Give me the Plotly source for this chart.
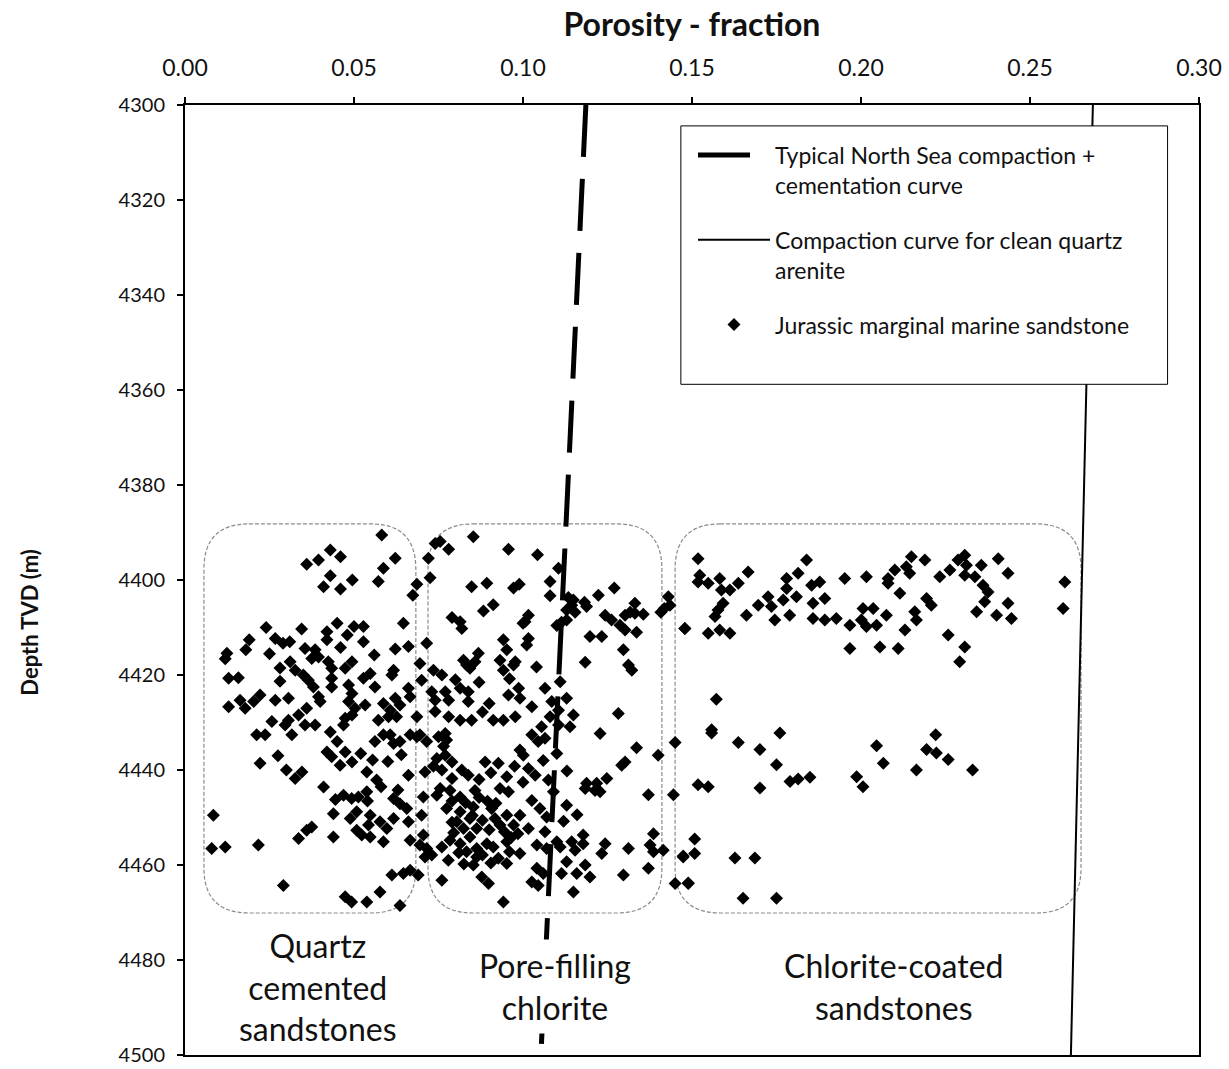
import plotly.graph_objects as go

# ---- porosity (fraction) / depth (m TVD) samples, grouped by facies ----
quartz_por = [
    0.036, 0.0395, 0.043, 0.046, 0.043, 0.0495, 0.041, 0.046, 0.0345, 0.045, 0.024, 0.019,
    0.042, 0.042, 0.048, 0.050, 0.0267, 0.029, 0.018, 0.0124, 0.0355, 0.0385,
    0.0582, 0.0622, 0.0587, 0.0572, 0.0686, 0.0674, 0.0646, 0.0528, 0.0528, 0.0622, 0.0661,
    0.0119, 0.0129, 0.0158, 0.0281, 0.0281, 0.0311, 0.0326, 0.035, 0.0365, 0.038, 0.0395,
    0.040, 0.0129, 0.0163, 0.0178, 0.0203, 0.0222, 0.0267, 0.0306, 0.0360, 0.0336, 0.0306,
    0.0296, 0.0316, 0.0257, 0.0237, 0.0212, 0.0355, 0.0385, 0.043, 0.0424, 0.0434, 0.0434,
    0.0434, 0.0474, 0.0494, 0.0484, 0.0494, 0.0484, 0.0474, 0.0469, 0.0494, 0.0503, 0.0420,
    0.0434, 0.0474, 0.0494, 0.0459, 0.0222, 0.0326, 0.0346, 0.0375, 0.0395,
    0.0548, 0.0528, 0.0562, 0.0617, 0.0612, 0.0695, 0.0533, 0.0587, 0.0607, 0.0626, 0.0636,
    0.0661, 0.0666, 0.0622, 0.0572, 0.0602, 0.0686, 0.0562, 0.0587, 0.0607, 0.0617, 0.0636,
    0.0666, 0.0686, 0.0695, 0.0661, 0.0538, 0.0567,
    0.0084, 0.0079, 0.0119, 0.0217, 0.0291, 0.0336, 0.0360, 0.0375, 0.0439, 0.0439, 0.0469,
    0.0493, 0.0513, 0.0489, 0.0508, 0.0508, 0.0474, 0.0493,
    0.0538, 0.0548, 0.0543, 0.0577, 0.0597, 0.0617, 0.0636, 0.0656, 0.0661, 0.0617, 0.0523,
    0.0548, 0.0587, 0.0666, 0.0695, 0.0612, 0.0646, 0.0666, 0.0690, 0.0577, 0.0538, 0.0636,
    0.0450, 0.0520, 0.0555, 0.0600, 0.0640, 0.0540, 0.0580, 0.0410, 0.0445, 0.0630, 0.0275,
    0.0300, 0.0310, 0.0250, 0.0460, 0.0560,
]
quartz_depth = [
    4396.7, 4395.8, 4393.7, 4395.1, 4399.1, 4400.0, 4401.4, 4401.9, 4410.3, 4409.1, 4410.0, 4412.6,
    4410.9, 4412.6, 4411.6, 4409.8, 4412.3, 4413.3, 4414.7, 4415.4, 4414.4, 4414.7,
    4390.5, 4395.4, 4397.5, 4400.3, 4400.9, 4403.2, 4409.1, 4409.8, 4413.0, 4414.5, 4414.0,
    4416.6, 4420.7, 4420.6, 4418.5, 4421.3, 4417.2, 4419.0, 4420.0, 4421.1, 4422.5, 4424.6,
    4425.6, 4426.7, 4425.3, 4427.0, 4425.6, 4424.2, 4425.3, 4424.9, 4427.0, 4428.4, 4429.5,
    4430.5, 4432.6, 4429.8, 4432.6, 4432.6, 4430.5, 4430.5, 4432.0, 4417.2, 4418.6, 4420.7,
    4422.5, 4418.6, 4417.2, 4422.1, 4423.9, 4425.6, 4429.1, 4430.5, 4428.4, 4427.0, 4436.2,
    4437.2, 4436.2, 4438.3, 4439.0, 4438.6, 4441.8, 4440.4, 4416.5, 4416.2,
    4419.7, 4420.7, 4422.5, 4419.0, 4420.0, 4417.6, 4426.3, 4426.0, 4427.4, 4428.8, 4426.3,
    4422.8, 4424.6, 4424.9, 4429.5, 4428.8, 4428.8, 4434.0, 4432.6, 4432.6, 4434.4, 4434.0,
    4432.6, 4433.0, 4432.6, 4441.1, 4440.4, 4442.1,
    4449.5, 4456.5, 4456.2, 4455.8, 4464.3, 4454.4, 4452.7, 4452.0, 4449.2, 4454.1, 4445.3,
    4446.0, 4445.7, 4450.2, 4448.8, 4452.7, 4466.7, 4467.8,
    4444.6, 4449.5, 4451.6, 4450.9, 4452.3, 4450.2, 4447.1, 4448.1, 4450.9, 4446.0, 4453.7,
    4454.1, 4455.1, 4454.8, 4455.8, 4462.1, 4461.8, 4461.1, 4462.1, 4465.7, 4467.8, 4468.5,
    4434.0, 4436.5, 4437.9, 4438.2, 4436.8, 4446.5, 4443.5, 4443.6, 4446.2, 4444.2, 4437.0,
    4440.0, 4413.0, 4415.5, 4414.2, 4415.8,
]

pore_por = [
    0.0715, 0.0725, 0.072, 0.074, 0.0755, 0.078, 0.0853, 0.0957, 0.0848, 0.0893, 0.0972,
    0.0989, 0.0883, 0.0912, 0.079, 0.0814, 0.0819, 0.0942, 0.0952, 0.100, 0.0868,
    0.1043, 0.1105, 0.1080, 0.1080, 0.1134, 0.1149, 0.1129, 0.1154, 0.1144, 0.1182, 0.1188,
    0.1223, 0.1270, 0.1243, 0.1262, 0.1287, 0.1302, 0.1336, 0.1302, 0.1331, 0.1331, 0.1356,
    0.1317, 0.1198, 0.1233, 0.1114, 0.1100, 0.1129, 0.1016, 0.1006, 0.1016, 0.1011, 0.1408,
    0.1430, 0.1435, 0.1418, 0.1297,
    0.0735, 0.070, 0.073, 0.074, 0.074, 0.077, 0.078, 0.0814, 0.0838, 0.0838, 0.078, 0.0814,
    0.0848, 0.0824, 0.0843, 0.0858, 0.0833, 0.0932, 0.0942, 0.0972, 0.0977, 0.0957, 0.0987,
    0.0991, 0.0912, 0.0942, 0.0977, 0.0715, 0.075, 0.077, 0.0774, 0.0745, 0.077, 0.079,
    0.0888, 0.0927, 0.0991, 0.1001, 0.071, 0.0760, 0.0819, 0.0838, 0.0952,
    0.1040, 0.1184, 0.1312, 0.1322, 0.1065, 0.1110, 0.1129, 0.1085, 0.1026, 0.1080, 0.1105,
    0.1149, 0.1139, 0.1105, 0.1055, 0.1026, 0.1045, 0.1065, 0.1100, 0.1282, 0.1228, 0.1336,
    0.1302, 0.1292, 0.1400, 0.1016, 0.1036, 0.1075, 0.1188, 0.1218, 0.1248,
    0.0700, 0.0705, 0.0705, 0.0715, 0.0730, 0.0710, 0.0760, 0.0755, 0.0784, 0.0858, 0.0932,
    0.0957, 0.0814, 0.0745, 0.0774, 0.0814, 0.0853, 0.0843, 0.0804, 0.0824, 0.0863, 0.0907,
    0.0917, 0.0932, 0.0952, 0.0972, 0.0991, 0.0760, 0.0784, 0.0814, 0.0843, 0.0863, 0.0893,
    0.0912, 0.0833, 0.0863, 0.0952, 0.0991, 0.0779, 0.0853, 0.0878, 0.0898, 0.0927, 0.0952,
    0.0942,
    0.1026, 0.1050, 0.1070, 0.1016, 0.1065, 0.1041, 0.1070, 0.1100, 0.1110, 0.1129, 0.1144,
    0.1154, 0.1178, 0.1178, 0.1041, 0.1060, 0.1026, 0.1045, 0.1114, 0.1129, 0.1159, 0.1184,
    0.1198, 0.1149, 0.1184, 0.1213, 0.1228, 0.1243, 0.1233, 0.1312, 0.1297, 0.1371, 0.1371,
    0.1386, 0.1376, 0.1386, 0.1415,
    0.0790, 0.0830, 0.0870, 0.0895, 0.0920, 0.0790, 0.0850, 0.0880, 0.0900, 0.0945, 0.0965,
    0.0985, 0.0795, 0.0810, 0.0880, 0.0905, 0.0960, 0.0825,
    0.0735, 0.0790, 0.0870, 0.0905, 0.0975, 0.1000, 0.0765,
    0.1090, 0.1120, 0.1160, 0.1060, 0.1130,
    0.0760, 0.0800, 0.0870, 0.0900, 0.0880, 0.0960,
]
pore_depth = [
    4413.3, 4399.5, 4395.4, 4392.3, 4391.9, 4393.5, 4390.9, 4393.5, 4401.4, 4400.7, 4401.7,
    4400.9, 4406.5, 4405.2, 4407.9, 4408.8, 4410.2, 4412.6, 4414.7, 4409.1, 4415.4,
    4394.7, 4397.5, 4400.3, 4403.3, 4403.7, 4404.2, 4406.3, 4406.8, 4405.3, 4404.7, 4405.6,
    4403.2, 4401.7, 4407.4, 4408.4, 4409.5, 4410.5, 4411.0, 4407.4, 4404.9, 4407.0, 4407.2,
    4406.8, 4411.9, 4411.9, 4408.9, 4409.6, 4408.4, 4407.4, 4408.8, 4412.3, 4413.7, 4406.8,
    4403.5, 4405.3, 4406.0, 4414.7,
    4419.0, 4421.1, 4423.5, 4425.3, 4427.7, 4423.5, 4425.3, 4422.8, 4423.5, 4425.6, 4428.8, 4429.5,
    4429.5, 4416.9, 4418.6, 4417.2, 4417.9, 4416.9, 4419.0, 4417.9, 4417.2, 4424.2, 4422.8,
    4424.9, 4429.5, 4429.5, 4428.8, 4434.0, 4433.0, 4432.3, 4433.7, 4437.6, 4436.9, 4438.3,
    4438.3, 4438.6, 4435.8, 4436.9, 4440.4, 4440.0, 4440.0, 4441.1, 4441.4,
    4418.3, 4417.3, 4417.9, 4419.0, 4422.8, 4421.4, 4424.9, 4425.6, 4426.7, 4428.8, 4427.4,
    4428.4, 4430.9, 4430.5, 4430.9, 4432.6, 4434.0, 4433.3, 4436.5, 4428.1, 4432.3, 4435.3,
    4438.3, 4439.0, 4436.9, 4439.7, 4441.1, 4442.1, 4442.8, 4442.8, 4441.8,
    4449.5, 4445.7, 4453.7, 4456.5, 4457.9, 4458.3, 4463.2, 4443.9, 4444.3, 4444.3, 4443.9,
    4444.6, 4445.7, 4445.3, 4448.1, 4448.8, 4447.8, 4450.2, 4450.9, 4452.3, 4452.3, 4448.1,
    4450.2, 4451.6, 4449.5, 4451.6, 4449.5, 4456.2, 4454.8, 4455.5, 4454.1, 4456.5, 4455.5,
    4456.2, 4457.2, 4458.3, 4455.1, 4457.6, 4459.0, 4460.0, 4462.5, 4463.9, 4458.6, 4459.7,
    4467.8,
    4446.4, 4448.1, 4449.9, 4452.3, 4453.0, 4455.8, 4456.5, 4455.1, 4456.2, 4447.4, 4455.1,
    4456.9, 4453.7, 4455.5, 4460.7, 4461.8, 4463.6, 4464.3, 4461.8, 4459.3, 4461.8, 4460.0,
    4462.5, 4465.7, 4443.9, 4444.3, 4444.6, 4455.5, 4457.6, 4456.5, 4462.1, 4460.7, 4445.2,
    4453.4, 4455.8, 4457.2, 4456.9,
    4446.5, 4446.9, 4445.8, 4446.6, 4447.0, 4451.0, 4449.6, 4450.6, 4452.6, 4453.0, 4454.2,
    4453.4, 4453.2, 4457.4, 4457.9, 4459.6, 4457.2, 4459.8,
    4439.2, 4441.8, 4442.0, 4440.6, 4439.2, 4442.6, 4435.0,
    4444.6, 4450.8, 4449.4, 4438.0, 4440.2,
    4420.0, 4421.0, 4421.5, 4426.0, 4427.8, 4420.8,
]

coated_por = [
    0.1479, 0.1450, 0.1445, 0.1474, 0.1450, 0.1489,
    0.1518, 0.1523, 0.1518, 0.1548, 0.1582, 0.1587, 0.1612, 0.1637, 0.1666, 0.1592, 0.1577,
    0.1568, 0.1479, 0.1548, 0.1582, 0.1612, 0.1661, 0.1696, 0.1725, 0.1735, 0.1745, 0.1770,
    0.1780, 0.1780, 0.1814, 0.1789, 0.1809, 0.1839, 0.1854, 0.1878, 0.1858, 0.1893, 0.1858,
    0.1893, 0.1927, 0.1952, 0.2016, 0.1967, 0.2006, 0.2001, 0.2036, 0.2016, 0.2046, 0.2075,
    0.1967, 0.2056, 0.2110, 0.2080, 0.2080, 0.2100, 0.2134, 0.2149, 0.2144, 0.2189, 0.2115,
    0.2159, 0.2164, 0.2130, 0.2194, 0.2208, 0.2233, 0.2263, 0.2287, 0.2307, 0.2312, 0.2307,
    0.2337, 0.2356, 0.2361, 0.2376, 0.2366, 0.2406, 0.2435, 0.2342, 0.2401, 0.2435, 0.2445,
    0.2258, 0.2307, 0.2292, 0.2603, 0.2598,
    0.1572, 0.1558, 0.1558, 0.1637, 0.1701, 0.1760, 0.1750, 0.1790, 0.1814, 0.1849, 0.1701,
    0.1518, 0.1548, 0.1987, 0.2006, 0.2046, 0.2066, 0.2164, 0.2194, 0.2223, 0.2221, 0.2258,
    0.2330, 0.1508, 0.1474, 0.1508, 0.1627, 0.1686, 0.1489, 0.1651, 0.1750,
]
coated_depth = [
    4410.2, 4434.2, 4445.2, 4458.3, 4463.9, 4463.9,
    4395.5, 4399.0, 4400.4, 4400.7, 4399.7, 4402.1, 4402.1, 4400.7, 4398.3, 4404.9, 4406.3,
    4407.7, 4410.2, 4411.2, 4410.5, 4411.2, 4407.4, 4405.3, 4403.5, 4405.6, 4408.4, 4404.2,
    4399.7, 4401.8, 4398.6, 4407.4, 4403.5, 4395.8, 4401.1, 4400.4, 4404.9, 4403.9, 4408.1,
    4408.4, 4408.1, 4399.7, 4399.3, 4409.5, 4406.0, 4408.4, 4406.0, 4409.8, 4409.5, 4407.4,
    4414.4, 4414.1, 4414.4, 4399.7, 4400.7, 4397.9, 4397.2, 4395.1, 4398.6, 4395.8, 4402.8,
    4406.7, 4408.4, 4410.5, 4403.9, 4405.3, 4399.3, 4397.9, 4395.8, 4394.8, 4396.9, 4399.0,
    4399.3, 4396.9, 4401.1, 4402.5, 4404.6, 4395.5, 4398.6, 4406.7, 4407.4, 4404.9, 4408.1,
    4411.6, 4414.1, 4417.2, 4400.4, 4406.0,
    4425.1, 4431.5, 4432.2, 4434.2, 4435.7, 4432.2, 4438.9, 4442.4, 4441.9, 4441.5, 4443.8,
    4443.1, 4443.5, 4441.4, 4443.5, 4434.9, 4438.6, 4440.0, 4435.7, 4436.4, 4432.6, 4437.8,
    4440.0, 4454.5, 4458.1, 4457.6, 4458.5, 4458.5, 4463.8, 4467.0, 4467.0,
]

# ---- reference trend curves (porosity at top and bottom of the depth window) ----
curve_depth = [4300, 4500]
north_sea_por = [0.1186, 0.1053]
quartz_arenite_por = [0.2686, 0.2621]

# ---- facies envelopes: porosity span and depth span of each rounded box ----
box_por = [(0.0056, 0.0683), (0.0719, 0.1411), (0.1450, 0.2651)]
box_depth = (4388.2, 4470.1)
box_labels = ["Quartz<br>cemented<br>sandstones", "Pore-filling<br>chlorite",
              "Chlorite-coated<br>sandstones"]
label_por = [0.0393, 0.1095, 0.2095]
label_depth = 4485.6

FONT = "Lato"
INK = "#111111"

fig = go.Figure()

fig.add_trace(go.Scatter(
    x=north_sea_por, y=curve_depth, mode="lines",
    name="Typical North Sea compaction +<br>cementation curve",
    line=dict(color="black", width=5, dash="52px,22px"),
    legendgroup="a",
))
fig.add_trace(go.Scatter(
    x=quartz_arenite_por, y=curve_depth, mode="lines",
    name="Compaction curve for clean quartz<br>arenite",
    line=dict(color="black", width=2),
    legendgroup="b",
))
fig.add_trace(go.Scatter(
    x=quartz_por + pore_por + coated_por,
    y=quartz_depth + pore_depth + coated_depth,
    mode="markers",
    name="Jurassic marginal marine sandstone",
    marker=dict(symbol="diamond", size=10, color="black", line=dict(width=0)),
    legendgroup="c",
))


def rounded_box(x0, x1, y0, y1, rx=0.0133, ry=9.5):
    return (f"M {x0 + rx},{y0} L {x1 - rx},{y0} Q {x1},{y0} {x1},{y0 + ry} "
            f"L {x1},{y1 - ry} Q {x1},{y1} {x1 - rx},{y1} "
            f"L {x0 + rx},{y1} Q {x0},{y1} {x0},{y1 - ry} "
            f"L {x0},{y0 + ry} Q {x0},{y0} {x0 + rx},{y0} Z")


shapes = []
for (p0, p1) in box_por:
    shapes.append(dict(type="path", xref="x", yref="y",
                       path=rounded_box(p0, p1, box_depth[0], box_depth[1]),
                       line=dict(color="#8a8a8a", width=1.2, dash="4px,2px"),
                       layer="below"))
# legend frame (opaque, so the curves pass behind it)
shapes.append(dict(type="rect", xref="paper", yref="paper",
                   x0=0.489, x1=0.969, y0=0.706, y1=0.978,
                   line=dict(color="black", width=1), fillcolor="white", layer="above"))

annotations = []
for txt, px in zip(box_labels, label_por):
    annotations.append(dict(x=px, y=label_depth, xref="x", yref="y", text=txt,
                            showarrow=False, align="center", bgcolor="white",
                            borderpad=6,
                            font=dict(family=FONT, size=32, color=INK)))
annotations.append(dict(x=-0.153, y=0.456, xref="paper", yref="paper",
                        xanchor="center", yanchor="middle",
                        text="<b>Depth TVD (m)</b>", textangle=-90, showarrow=False,
                        font=dict(family=FONT, size=22, color=INK)))

fig.update_layout(
    width=1229, height=1069,
    margin=dict(l=185, r=30, t=105, b=14, autoexpand=False),
    paper_bgcolor="white", plot_bgcolor="white",
    font=dict(family=FONT, color=INK),
    shapes=shapes, annotations=annotations,
    showlegend=True,
    legend=dict(x=0.501, y=0.970, xanchor="left", yanchor="top",
                bgcolor="rgba(0,0,0,0)", borderwidth=0,
                font=dict(family=FONT, size=23, color=INK),
                itemwidth=72, valign="top", tracegroupgap=22,
                traceorder="grouped"),
)

fig.update_xaxes(
    range=[0, 0.30], side="top", tickmode="array",
    tickvals=[0, 0.05, 0.10, 0.15, 0.20, 0.25, 0.30], tickformat=".2f",
    showgrid=False, zeroline=False, automargin=False,
    showline=True, linecolor="black", linewidth=2, mirror=True,
    ticks="outside", ticklen=6, tickwidth=1.5, tickcolor="black",
    ticklabelstandoff=12,
    tickfont=dict(family=FONT, size=23, color=INK),
    title=dict(text="<b>Porosity - fraction</b>", standoff=7,
               font=dict(family=FONT, size=32, color=INK)),
)
fig.update_yaxes(
    range=[4500, 4300], tickmode="linear", tick0=4300, dtick=20,
    showgrid=False, zeroline=False, automargin=False,
    showline=True, linecolor="black", linewidth=2, mirror=True,
    ticks="outside", ticklen=6, tickwidth=1.5, tickcolor="black",
    ticklabelstandoff=8,
    tickfont=dict(family=FONT, size=20, color=INK),
)

fig.write_html("out.html")
